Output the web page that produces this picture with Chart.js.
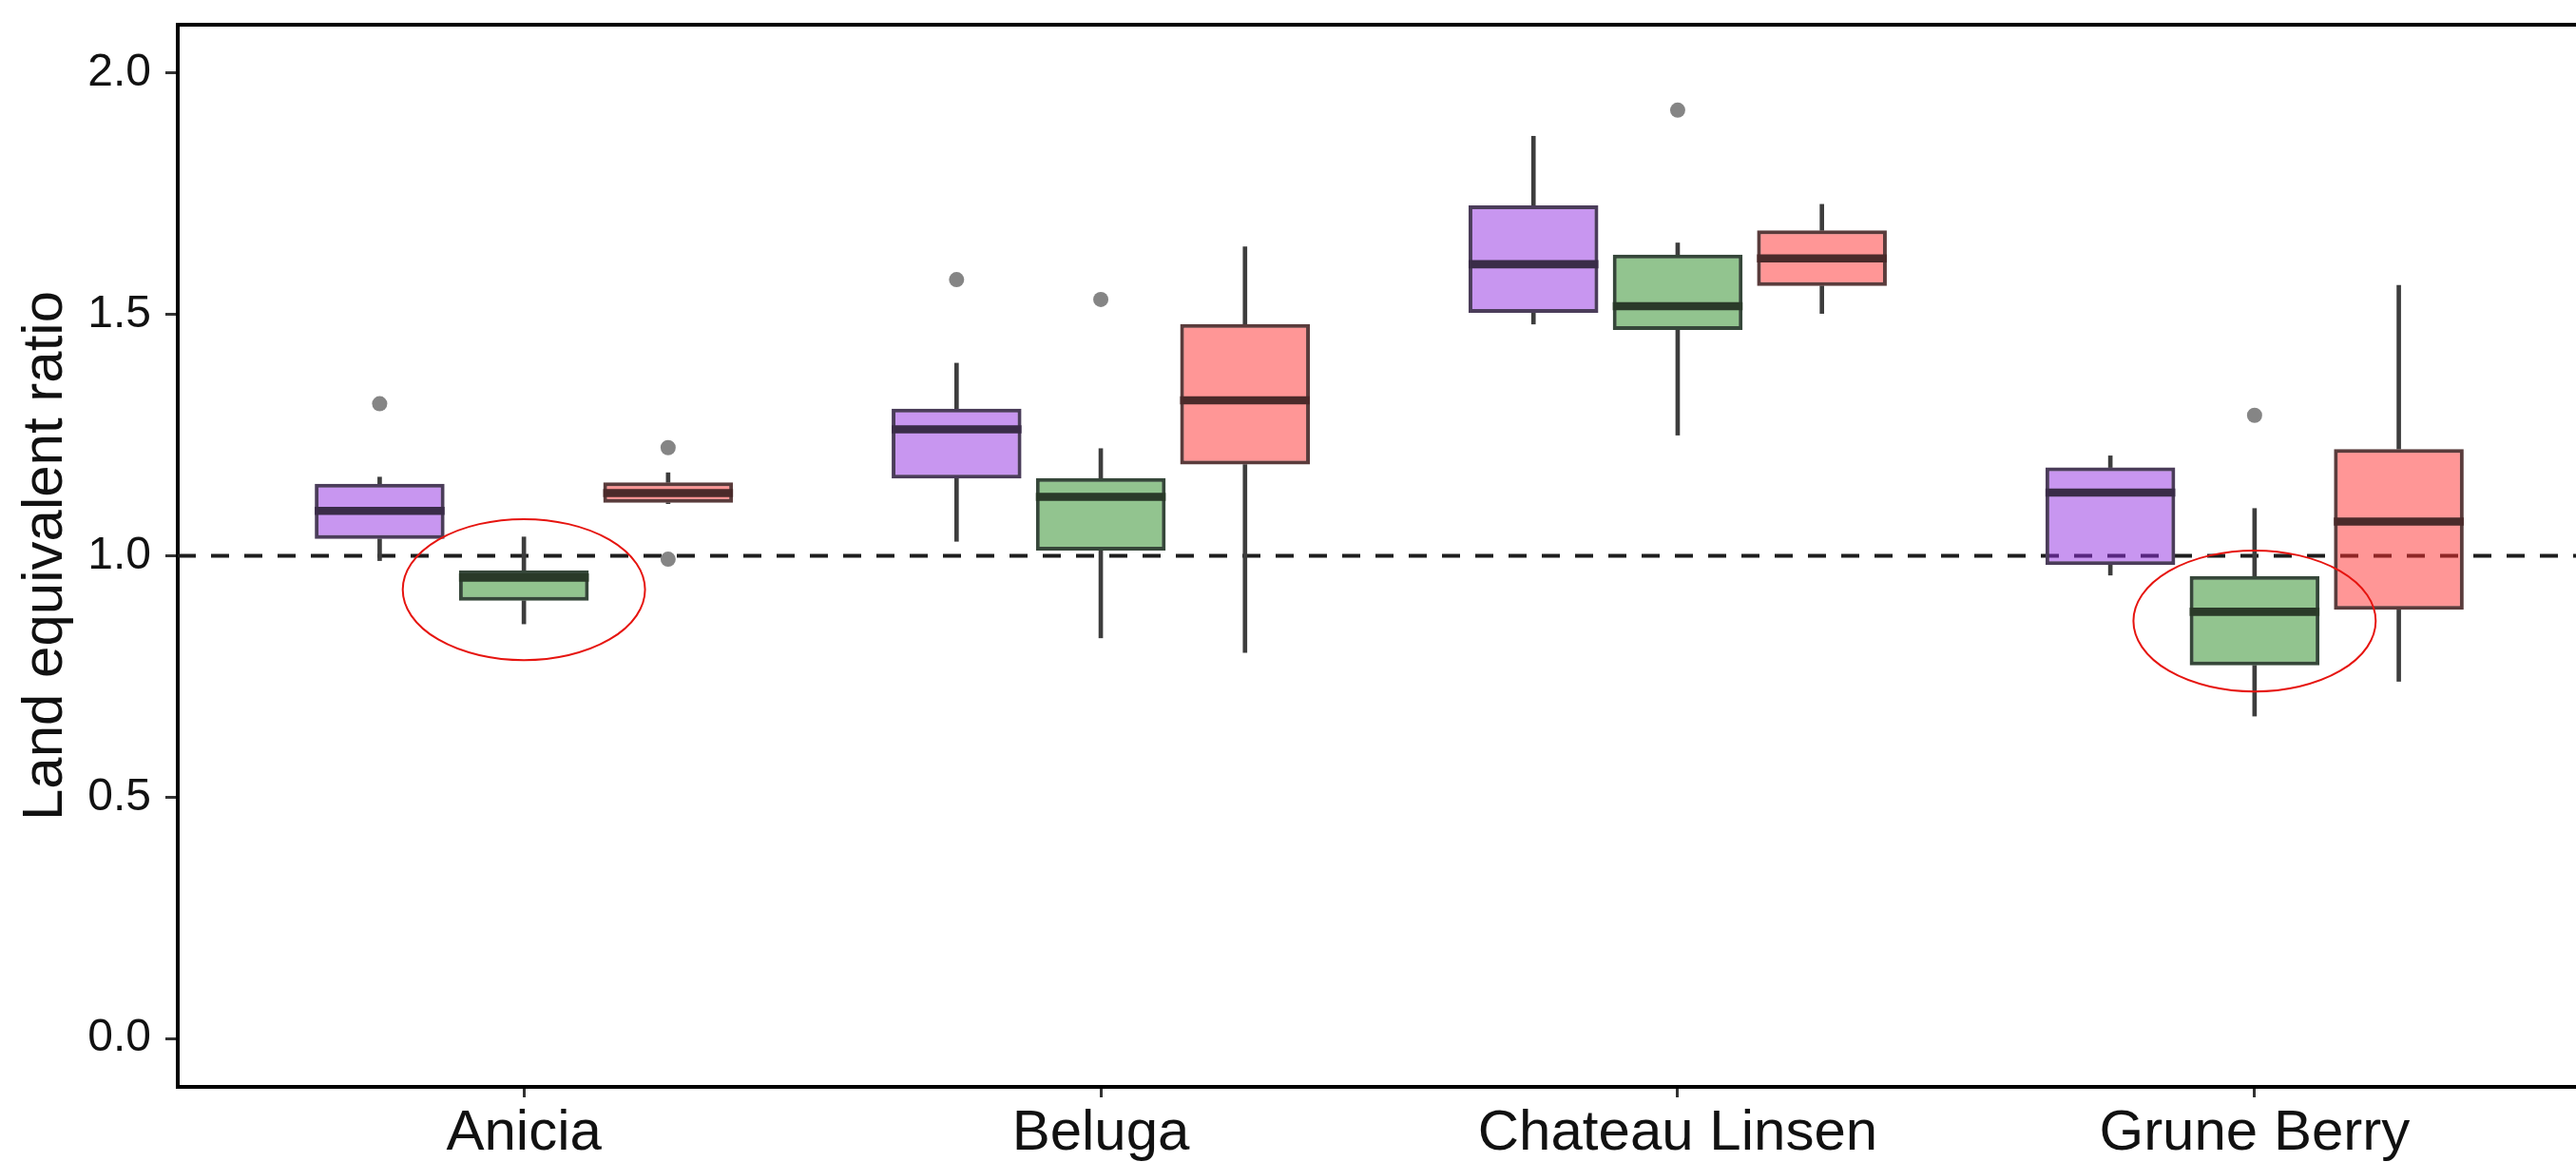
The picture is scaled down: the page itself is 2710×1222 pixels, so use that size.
<!DOCTYPE html>
<html>
<head>
<meta charset="utf-8">
<title>Land equivalent ratio</title>
<script src="https://cdn.jsdelivr.net/npm/chart.js@4.4.1/dist/chart.umd.min.js"></script>
<style>
  html, body { margin: 0; padding: 0; background: #fff; overflow: hidden; }
  canvas { display: block; }
</style>
</head>
<body>
<canvas id="boxplot" width="2760" height="1222"></canvas>
<script>
// categories on the x axis
var categories = ['Anicia', 'Beluga', 'Chateau Linsen', 'Grune Berry'];
var yTicks = [0, 0.5, 1, 1.5, 2];

// purple series: whisker low, Q1, median, Q3, whisker high, outliers
var purpleLow = [0.99, 1.03, 1.48, 0.96];
var purpleQ1 = [1.035, 1.16, 1.503, 0.981];
var purpleMedian = [1.093, 1.262, 1.604, 1.131];
var purpleQ3 = [1.149, 1.305, 1.726, 1.183];
var purpleHigh = [1.163, 1.399, 1.869, 1.207];
var purpleOutliers = [[1.315], [1.572], [], []];

// green series
var greenLow = [0.859, 0.83, 1.25, 0.668];
var greenQ1 = [0.907, 1.011, 1.468, 0.773];
var greenMedian = [0.955, 1.122, 1.517, 0.884];
var greenQ3 = [0.97, 1.161, 1.624, 0.958];
var greenHigh = [1.039, 1.222, 1.648, 1.098];
var greenOutliers = [[], [1.531], [1.923], [1.291]];

// red series
var redLow = [1.108, 0.8, 1.502, 0.74];
var redQ1 = [1.11, 1.189, 1.559, 0.888];
var redMedian = [1.13, 1.322, 1.616, 1.071];
var redQ3 = [1.152, 1.48, 1.674, 1.221];
var redHigh = [1.172, 1.64, 1.728, 1.56];
var redOutliers = [[1.224, 0.993], [], [], []];

// reference line and the circled boxes
var referenceLevel = 1;
var circledCategory = [1, 4];
var circledValue = [0.93, 0.865];

function boxDatasets(name, offset, low, q1, med, q3, high, outliers, fill, edge, mid) {
    var boxes = [], medians = [], whiskers = [], points = [];
    for (var i = 0; i < categories.length; i++) {
        var x = i + 1 + offset;
        boxes.push({x: x, y: [q1[i], q3[i]]});
        medians.push({x: x, y: [med[i] - 0.0085, med[i] + 0.0085]});
        if (low[i] < q1[i]) whiskers.push({x: x, y: [low[i], q1[i]]});
        if (high[i] > q3[i]) whiskers.push({x: x, y: [q3[i], high[i]]});
        outliers[i].forEach(function (v) { points.push({x: x, y: v}); });
    }
    return [
        {label: name + ' median', data: medians, backgroundColor: mid, borderWidth: 0,
         grouped: false, categoryPercentage: 1, barPercentage: 0.9, order: 0},
        {label: name + ' outliers', type: 'scatter', data: points, pointRadius: 8,
         pointBackgroundColor: '#858585', pointBorderWidth: 0, order: 0},
        {label: name, data: boxes, backgroundColor: fill, borderColor: edge, borderWidth: 4,
         borderSkipped: false, grouped: false, categoryPercentage: 1, barPercentage: 0.9, order: 1},
        {label: name + ' whiskers', data: whiskers, backgroundColor: '#3d3d3d', borderWidth: 0,
         grouped: false, barThickness: 4, order: 2}
    ];
}

var datasets = []
    .concat(boxDatasets('Purple', -0.25, purpleLow, purpleQ1, purpleMedian, purpleQ3, purpleHigh,
        purpleOutliers, 'rgba(145, 45, 225, 0.5)', '#4b3d5a', '#3a2c48'))
    .concat(boxDatasets('Green', 0, greenLow, greenQ1, greenMedian, greenQ3, greenHigh,
        greenOutliers, 'rgba(37, 137, 31, 0.5)', '#36473a', '#2a3a29'))
    .concat(boxDatasets('Red', 0.25, redLow, redQ1, redMedian, redQ3, redHigh,
        redOutliers, 'rgba(255, 45, 45, 0.5)', '#5a3c3c', '#4a2a2a'));

datasets.push({
    label: 'LER = 1', type: 'line',
    data: [{x: 0.4, y: referenceLevel}, {x: 4.6, y: referenceLevel}],
    borderColor: '#1e1e1e', borderWidth: 4, borderDash: [19, 16],
    pointRadius: 0, order: 3
});

// red ellipses drawn around the marked boxes
var ellipsePlugin = {
    id: 'ellipses',
    afterDatasetsDraw: function (chart, args, opts) {
        var ctx = chart.ctx, x = chart.scales.x, y = chart.scales.y;
        ctx.save();
        ctx.strokeStyle = opts.color;
        ctx.lineWidth = opts.width;
        for (var i = 0; i < circledCategory.length; i++) {
            var cx = x.getPixelForValue(circledCategory[i]);
            var cy = y.getPixelForValue(circledValue[i]);
            var rx = Math.abs(x.getPixelForValue(circledCategory[i] + opts.rx) - cx);
            var ry = Math.abs(y.getPixelForValue(circledValue[i] + opts.ry) - cy);
            ctx.beginPath();
            ctx.ellipse(cx, cy, rx, ry, 0, 0, 2 * Math.PI);
            ctx.stroke();
        }
        ctx.restore();
    }
};

Chart.defaults.font.family = '"Liberation Sans", Arial, sans-serif';

var ctx = document.getElementById('boxplot').getContext('2d');
var myChart = new Chart(ctx, {
    type: 'bar',
    data: { datasets: datasets },
    plugins: [ellipsePlugin],
    options: {
        responsive: false,
        animation: false,
        layout: { padding: { top: 26, right: 24, bottom: 0, left: 0 } },
        plugins: {
            legend: { display: false },
            tooltip: { enabled: false },
            ellipses: { color: '#e6140f', width: 2, rx: 0.21, ry: 0.146 }
        },
        scales: {
            x: {
                type: 'linear', min: 0.4, max: 4.6, offset: false,
                afterBuildTicks: function (scale) {
                    scale.ticks = categories.map(function (c, i) { return {value: i + 1}; });
                },
                afterFit: function (scale) {
                    scale.height = 79;
                    scale.paddingLeft = 0;
                    scale.paddingRight = 0;
                },
                ticks: {
                    autoSkip: false, maxRotation: 0, padding: 2, color: '#111',
                    font: { size: 60 },
                    callback: function (v) { return categories[v - 1]; }
                },
                grid: { offset: false, drawOnChartArea: false, tickLength: 11, tickWidth: 3, tickColor: '#333' },
                border: { display: true, width: 4, color: '#000' }
            },
            xTop: {
                type: 'linear', axis: 'x', position: 'top', min: 0.4, max: 4.6,
                afterFit: function (scale) {
                    scale.height = 0;
                    scale.paddingLeft = 0;
                    scale.paddingRight = 0;
                },
                ticks: { display: false },
                grid: { drawOnChartArea: false, drawTicks: false },
                border: { display: true, width: 4, color: '#000' }
            },
            y: {
                type: 'linear', min: -0.1, max: 2.1,
                afterBuildTicks: function (scale) {
                    scale.ticks = yTicks.map(function (v) { return {value: v}; });
                },
                afterFit: function (scale) {
                    scale.width = 187;
                    scale.paddingTop = 0;
                    scale.paddingBottom = 0;
                },
                ticks: {
                    padding: 15, color: '#111', font: { size: 48 },
                    callback: function (v) { return v.toFixed(1); }
                },
                grid: { drawOnChartArea: false, tickLength: 13, tickWidth: 3, tickColor: '#333' },
                border: { display: true, width: 4, color: '#000' },
                title: {
                    display: true, text: 'Land equivalent ratio', color: '#111',
                    font: { size: 60, lineHeight: 1.2 }, padding: { top: 12, bottom: 0 }
                }
            }
        }
    }
});
</script>
</body>
</html>
